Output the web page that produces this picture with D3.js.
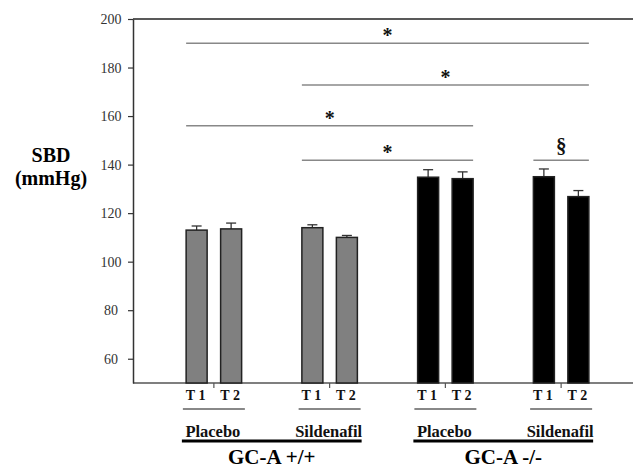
<!DOCTYPE html>
<html>
<head>
<meta charset="utf-8">
<script src="https://cdn.jsdelivr.net/npm/d3@7"></script>
</head>
<body style="margin:0">
<div class="chart"></div>
<script>
// groups along the x axis
const genotypes = ["GC-A +/+", "GC-A -/-"];
const treatments = ["Placebo", "Sildenafil", "Placebo", "Sildenafil"];
const groupGenotype = [0, 0, 1, 1];
const times = ["T 1", "T 2"];

// mean SBD (mmHg) at T1, T2 for each group
const meansT1 = [113.0, 114.0, 134.8, 135.0];
const meansT2 = [113.5, 110.0, 134.2, 126.8];
const errT1 = [1.7, 1.2, 3.1, 3.2];
const errT2 = [2.4, 0.8, 2.8, 2.5];

const yTicks = [60, 80, 100, 120, 140, 160, 180, 200];

// significance brackets: from group/time to group/time, at value
const bracketFrom = [[0, 0], [1, 0], [0, 0], [1, 0], [3, 0]];
const bracketTo = [[3, 1], [3, 1], [2, 1], [2, 1], [3, 1]];
const bracketY = [190, 172.8, 156, 141.8, 141.8];
const bracketLabel = ["*", "*", "*", "*", "§"];

const serif = "Liberation Serif";
const width = 633, height = 469;
const svg = d3.select(".chart").append("svg")
  .attr("width", width)
  .attr("height", height);

const y = d3.scaleLinear().domain([50, 200]).range([383, 19]);
const x = d3.scaleBand().domain(d3.range(4)).range([156, 619]).padding(0);
const inner = d3.scalePoint().domain(times).range([-17.25, 17.25]);
const barW = 21;
const center = g => x(g) + x.bandwidth() / 2;
const barX = (g, t) => center(g) + inner(times[t]);

const bars = [];
treatments.forEach((tr, g) => {
  bars.push({ g, t: 0, v: meansT1[g], e: errT1[g] });
  bars.push({ g, t: 1, v: meansT2[g], e: errT2[g] });
});

// frame: top line and x axis line
svg.append("line")
  .attr("x1", 133).attr("x2", width)
  .attr("y1", y(200)).attr("y2", y(200))
  .attr("stroke", "#222").attr("stroke-width", 1.5);

svg.append("line")
  .attr("x1", 133).attr("x2", width)
  .attr("y1", y(50)).attr("y2", y(50))
  .attr("stroke", "#555").attr("stroke-width", 1.5);

// y axis: line and ticks from d3, labels drawn as plain text
const yAxis = svg.append("g")
  .attr("transform", "translate(133,0)")
  .call(d3.axisLeft(y).tickValues(yTicks).tickSize(5).tickFormat("").tickSizeOuter(0));
yAxis.select(".domain").attr("stroke", "#333").attr("stroke-width", 1.5);
yAxis.selectAll(".tick line").attr("stroke", "#333").attr("stroke-width", 1.2);

svg.selectAll(".ylab").data(yTicks).enter().append("text")
  .attr("x", 111)
  .attr("y", d => y(d) + 5)
  .attr("text-anchor", "middle")
  .attr("font-family", serif)
  .attr("font-size", 14)
  .attr("fill", "#333")
  .text(d => d);

// x ticks at group centers
svg.selectAll(".xtick")
  .data(d3.range(4))
  .enter().append("line")
  .attr("x1", g => center(g)).attr("x2", g => center(g))
  .attr("y1", y(50)).attr("y2", y(50) + 5)
  .attr("stroke", "#555").attr("stroke-width", 1.2);

// significance brackets
bracketY.forEach((v, i) => {
  const x1 = barX(bracketFrom[i][0], bracketFrom[i][1]) - barW / 2;
  const x2 = barX(bracketTo[i][0], bracketTo[i][1]) + barW / 2;
  svg.append("line")
    .attr("x1", x1).attr("x2", x2)
    .attr("y1", y(v)).attr("y2", y(v))
    .attr("stroke", "#888").attr("stroke-width", 1.6);
  const isStar = bracketLabel[i] === "*";
  svg.append("text")
    .attr("x", (x1 + x2) / 2)
    .attr("y", y(v) - (isStar ? 1 : 7))
    .attr("text-anchor", "middle")
    .attr("font-family", serif)
    .attr("font-size", isStar ? 20 : 21)
    .attr("font-weight", "bold")
    .attr("fill", "#111")
    .text(bracketLabel[i]);
});

// error bars
const eb = svg.selectAll(".err").data(bars).enter().append("g");
eb.append("line")
  .attr("x1", d => barX(d.g, d.t)).attr("x2", d => barX(d.g, d.t))
  .attr("y1", d => y(d.v)).attr("y2", d => y(d.v + d.e))
  .attr("stroke", "#333").attr("stroke-width", 1.3);
eb.append("line")
  .attr("x1", d => barX(d.g, d.t) - 5).attr("x2", d => barX(d.g, d.t) + 5)
  .attr("y1", d => y(d.v + d.e)).attr("y2", d => y(d.v + d.e))
  .attr("stroke", "#333").attr("stroke-width", 1.3);

// bars
svg.selectAll(".bar").data(bars).enter().append("rect")
  .attr("x", d => barX(d.g, d.t) - barW / 2)
  .attr("width", barW)
  .attr("y", d => y(d.v))
  .attr("height", d => y(50) - y(d.v))
  .attr("fill", d => groupGenotype[d.g] === 0 ? "#808080" : "#000")
  .attr("stroke", "#222")
  .attr("stroke-width", 1.5);

// time labels
svg.selectAll(".tlab").data(bars).enter().append("text")
  .attr("x", d => barX(d.g, d.t) - 1)
  .attr("y", 400)
  .attr("text-anchor", "middle")
  .attr("font-family", serif)
  .attr("font-size", 14)
  .attr("font-weight", "bold")
  .attr("fill", "#111")
  .text(d => times[d.t]);

// treatment underlines and labels
svg.selectAll(".tline").data(d3.range(4)).enter().append("line")
  .attr("x1", g => center(g) - 31).attr("x2", g => center(g) + 31)
  .attr("y1", 409).attr("y2", 409)
  .attr("stroke", "#888").attr("stroke-width", 2);

svg.selectAll(".trlab").data(treatments).enter().append("text")
  .attr("x", (d, g) => center(g) - 1)
  .attr("y", 437)
  .attr("text-anchor", "middle")
  .attr("font-family", serif)
  .attr("font-size", 16.5)
  .attr("font-weight", "bold")
  .attr("fill", "#111")
  .text(d => d);

// genotype lines and labels
genotypes.forEach((gt, k) => {
  const gs = d3.range(4).filter(g => groupGenotype[g] === k);
  const x1 = center(gs[0]) - 32;
  const x2 = center(gs[gs.length - 1]) + 32;
  svg.append("line")
    .attr("x1", x1).attr("x2", x2)
    .attr("y1", 441).attr("y2", 441)
    .attr("stroke", "#000").attr("stroke-width", 3);
  svg.append("text")
    .attr("x", (x1 + x2) / 2)
    .attr("y", 464)
    .attr("text-anchor", "middle")
    .attr("font-family", serif)
    .attr("font-size", 21)
    .attr("font-weight", "bold")
    .attr("fill", "#000")
    .text(gt);
});

// y label
svg.selectAll(".ytitle").data(["SBD", "(mmHg)"]).enter().append("text")
  .attr("x", 51)
  .attr("y", (d, i) => 162 + i * 23)
  .attr("text-anchor", "middle")
  .attr("font-family", serif)
  .attr("font-size", 20)
  .attr("font-weight", "bold")
  .attr("fill", "#000")
  .text(d => d);
</script>
</body>
</html>
